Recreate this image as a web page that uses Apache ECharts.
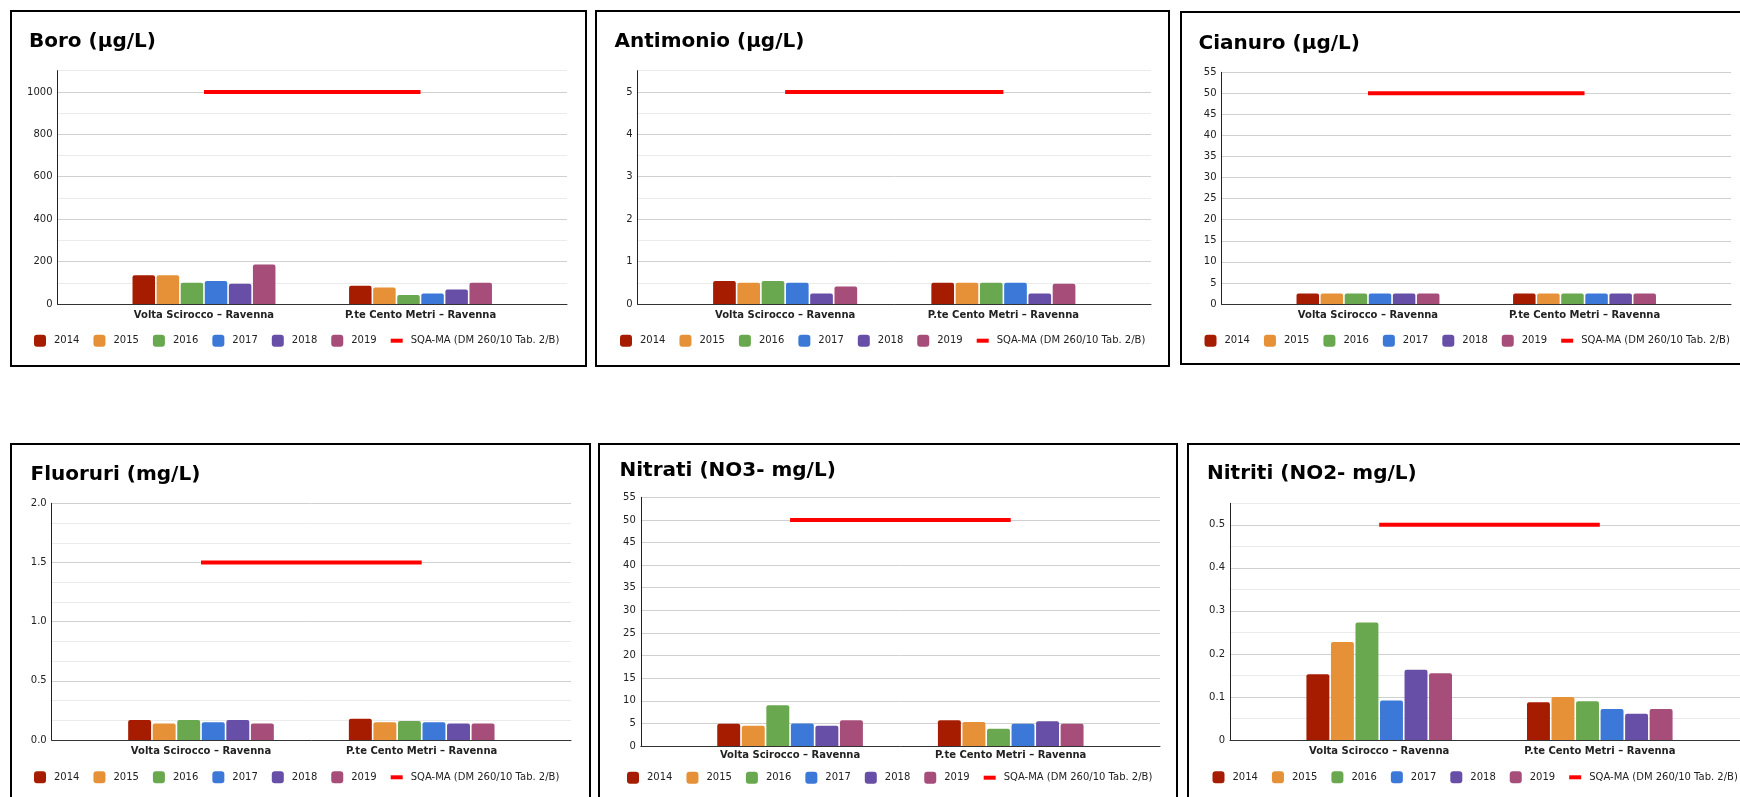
<!DOCTYPE html>
<html>
<head>
<meta charset="utf-8">
<script src="https://cdn.jsdelivr.net/npm/echarts@6/dist/echarts.min.js"></script>
<style>
    html, body { margin: 0; padding: 0; background: #fff; }
    #chart { width: 1740px; height: 797px; }
</style>
</head>
<body>
<div id="chart"></div>
<script>
// categorie e serie (anni)
const categories = ['Volta Scirocco – Ravenna', 'P.te Cento Metri – Ravenna'];
const years = ['2014', '2015', '2016', '2017', '2018', '2019'];
const limitName = 'SQA-MA (DM 260/10 Tab. 2/B)';
const titles = ['Boro (µg/L)', 'Antimonio (µg/L)', 'Cianuro (µg/L)', 'Fluoruri (mg/L)', 'Nitrati (NO3- mg/L)', 'Nitriti (NO2- mg/L)'];

// valori per stazione, un valore per anno
const boroVolta = [135, 135, 100, 108, 95, 186];
const boroPonte = [86, 78, 42, 50, 68, 100];
const antimonioVolta = [0.54, 0.5, 0.54, 0.5, 0.25, 0.41];
const antimonioPonte = [0.5, 0.5, 0.5, 0.5, 0.25, 0.48];
const cianuroVolta = [2.5, 2.5, 2.5, 2.5, 2.5, 2.5];
const cianuroPonte = [2.5, 2.5, 2.5, 2.5, 2.5, 2.5];
const fluoruriVolta = [0.17, 0.14, 0.17, 0.15, 0.17, 0.14];
const fluoruriPonte = [0.18, 0.15, 0.16, 0.15, 0.14, 0.14];
const nitratiVolta = [4.9, 4.5, 9.0, 5.0, 4.5, 5.7];
const nitratiPonte = [5.7, 5.3, 3.8, 4.9, 5.5, 4.9];
const nitritiVolta = [0.153, 0.228, 0.273, 0.092, 0.163, 0.155];
const nitritiPonte = [0.088, 0.100, 0.090, 0.072, 0.061, 0.072];

// limite SQA-MA
const limits = [1000, 5, 50, 1.5, 50, 0.5];

// scale asse y: massimo, passo griglia, passo etichette, decimali
const yMax = [1100, 5.5, 55, 2.0, 55, 0.55];
const yStep = [100, 0.5, 5, 0.5, 5, 0.05];
const yLabelStep = [200, 1, 5, 0.5, 5, 0.1];
const yDecimals = [0, 0, 0, 1, 0, 0];

const stations = [
    [boroVolta, boroPonte],
    [antimonioVolta, antimonioPonte],
    [cianuroVolta, cianuroPonte],
    [fluoruriVolta, fluoruriPonte],
    [nitratiVolta, nitratiPonte],
    [nitritiVolta, nitritiPonte],
];

const colors = ['#a61c00', '#e69138', '#6aa84f', '#3c78d8', '#674ea7', '#a64d79'];
const FONT = 'DejaVu Sans';
const DARK = '#d0d0d0';
const LIGHT = '#ebebeb';
// icona legenda: trattino rosso 12x4 dentro un quadrato 12x12
const LINE_ICON = 'path://M0,0L0,0M12,12L12,12M0,4L12,4L12,8L0,8Z';

// layout dei riquadri (pixel della pagina)
const layout = [
    {box: [10, 10, 587, 367], title: [29, 42], plot: [57.5, 70.7, 567, 304], legend: [34, 340.7], catMargin: 6, lines: [DARK, LIGHT]},
    {box: [595, 10, 1170, 367], title: [614.5, 42], plot: [637.5, 70.7, 1151, 304], legend: [620, 340.7], catMargin: 6, lines: [DARK, LIGHT]},
    {box: [1180, 11, 1757, 365], title: [1198.5, 43.5], plot: [1221.5, 72.3, 1731, 304], legend: [1204.5, 340.7], catMargin: 6, lines: [DARK]},
    {box: [10, 443, 591, 800], title: [30.5, 475], plot: [51.7, 503.3, 571, 740], legend: [34, 777.3], catMargin: 6, lines: [DARK], minor: 3},
    {box: [598, 443, 1178, 800], title: [619.5, 471], plot: [640.8, 497.3, 1160, 746], legend: [627, 777.7], catMargin: 4, lines: [DARK]},
    {box: [1187, 443, 1768, 800], title: [1207, 473.5], plot: [1230, 503.3, 1749, 740], legend: [1212.5, 777.3], catMargin: 6, lines: [DARK, LIGHT]},
];

const labelFormatter = function (step, dec) {
    return function (v) {
        const k = v / step;
        if (Math.abs(k - Math.round(k)) > 1e-6) return '';
        return dec ? v.toFixed(dec) : String(+v.toFixed(4));
    };
};

const option = {
    animation: false,
    title: [], legend: [], grid: [], xAxis: [], yAxis: [], series: [], graphic: []
};

layout.forEach(function (p, k) {
    const W = p.plot[2] - p.plot[0];
    const H = p.plot[3] - p.plot[1];
    const inset = W * 0.075;
    const g = k * 2;

    option.graphic.push({
        type: 'rect', silent: true,
        shape: {x: p.box[0] + 1, y: p.box[1] + 1, width: p.box[2] - p.box[0] - 2, height: p.box[3] - p.box[1] - 2},
        style: {fill: 'none', stroke: '#000', lineWidth: 2}
    });

    option.title.push({
        text: titles[k], left: p.title[0], top: p.title[1] - 10, padding: 0,
        textStyle: {fontFamily: FONT, fontSize: 20, fontWeight: 'bold', color: '#000'}
    });

    option.legend.push({
        left: p.legend[0], top: p.legend[1] - 6, padding: 0,
        itemWidth: 12, itemHeight: 12, itemGap: 14,
        textStyle: {fontFamily: FONT, fontSize: 10, color: '#222', padding: [0, 0, 0, 3]},
        data: years.concat([{name: limitName, icon: LINE_ICON}])
    });

    // griglia piena: assi, linee di griglia, etichette y
    option.grid.push({left: p.plot[0], top: p.plot[1], width: W, height: H});
    // griglia interna per le barre
    option.grid.push({left: p.plot[0] + inset, top: p.plot[1], width: W - 2 * inset, height: H});

    option.xAxis.push({
        type: 'category', gridIndex: g, data: categories,
        axisLine: {lineStyle: {color: '#333', width: 1}},
        axisTick: {show: false}, axisLabel: {show: false}, splitLine: {show: false}
    });
    option.xAxis.push({
        type: 'category', gridIndex: g + 1, data: categories,
        axisLine: {show: false}, axisTick: {show: false},
        axisLabel: {fontFamily: FONT, fontSize: 10, fontWeight: 'bold', color: '#222', margin: p.catMargin}
    });

    const yAx = {
        type: 'value', gridIndex: g, min: 0, max: yMax[k], interval: yStep[k],
        axisLine: {show: true, lineStyle: {color: '#222', width: 1}},
        axisTick: {show: false},
        axisLabel: {fontFamily: FONT, fontSize: 10, color: '#222', margin: 5,
            formatter: labelFormatter(yLabelStep[k], yDecimals[k])},
        splitLine: {lineStyle: {color: p.lines, width: 1}}
    };
    if (p.minor) {
        yAx.minorTick = {show: false, splitNumber: p.minor};
        yAx.minorSplitLine = {show: true, lineStyle: {color: LIGHT, width: 1}};
    }
    option.yAxis.push(yAx);
    option.yAxis.push({type: 'value', gridIndex: g + 1, min: 0, max: yMax[k], show: false});

    years.forEach(function (y, i) {
        option.series.push({
            name: y, type: 'bar', xAxisIndex: g + 1, yAxisIndex: g + 1,
            data: [stations[k][0][i], stations[k][1][i]],
            barGap: '7%', barCategoryGap: '34%',
            itemStyle: {color: colors[i], borderRadius: [2, 2, 0, 0]}
        });
    });

    option.series.push({
        name: limitName, type: 'line', xAxisIndex: g + 1, yAxisIndex: g + 1,
        data: [limits[k], limits[k]], symbol: 'none', z: 5,
        lineStyle: {color: '#ff0000', width: 4}, itemStyle: {color: '#ff0000'}
    });
});

const myChart = echarts.init(document.getElementById('chart'));
myChart.setOption(option);
</script>
</body>
</html>
